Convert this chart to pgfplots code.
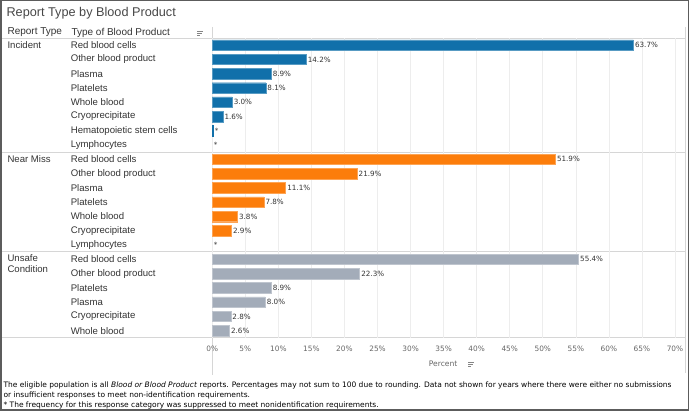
\documentclass[border=0pt]{standalone}
\usepackage{fontspec}
\setmainfont{Liberation Sans}
\newfontfamily\dvs{DejaVu Sans}
\usepackage{pgfplots}
\pgfplotsset{compat=1.18}
\usetikzlibrary{calc}

\definecolor{cbblue}{HTML}{1170AA}
\definecolor{cborange}{HTML}{FC7D0B}
\definecolor{cbgray}{HTML}{A3ACB9}
\definecolor{txt}{HTML}{333333}
\definecolor{sep}{HTML}{D6D6D6}
\definecolor{grd}{HTML}{EDEDED}

\newcommand{\sorticon}[1]{%
  \draw[txt!60, line width=0.6pt] ($#1+(0,-2)$) -- +(6,0)
    ($#1+(0,0)$) -- +(4.5,0) ($#1+(0,2)$) -- +(3,0);}

\begin{document}
\begin{tikzpicture}[x=1pt,y=-1pt]
% panes and separators
\draw[sep, line width=0.7pt] (0,38) -- (685,38);
\draw[sep, line width=0.7pt] (0,152) -- (685,152);
\draw[sep, line width=0.7pt] (0,251) -- (685,251);
\draw[sep, line width=0.7pt] (0,338) -- (685,338);
\draw[sep, line width=0.7pt] (212,27) -- (212,375);
\draw[sep, line width=0.7pt] (685,27) -- (685,373);

\begin{axis}[
  at={(212pt,-338pt)}, anchor=south west,
  scale only axis, width=463pt, height=300pt,
  xmin=0, xmax=70, ymin=-20.5, ymax=0.5,
  /pgf/number format/assume math mode=true,
  axis line style={draw=none},
  major tick length=0pt,
  xtick={0,5,...,70},
  xticklabel={\pgfmathprintnumber{\tick}\%},
  xticklabel style={font=\dvs\fontsize{7.4}{8}\selectfont, text=txt!75, yshift=-4.5pt},
  xmajorgrids, grid style={grd, line width=0.7pt},
  ytick={0,-1,...,-20},
  yticklabels={Red blood cells, Other blood product, Plasma, Platelets,
    Whole blood, Cryoprecipitate, Hematopoietic stem cells, Lymphocytes,
    Red blood cells, Other blood product, Plasma, Platelets, Whole blood,
    Cryoprecipitate, Lymphocytes,
    Red blood cells, Other blood product, Platelets, Plasma,
    Cryoprecipitate, Whole blood},
  yticklabel style={anchor=west, xshift=-145pt,
    font=\fontsize{9.6}{10}\selectfont, text=txt},
  xbar, bar shift=0pt, bar width=10.5pt,
  point meta=x,
  nodes near coords={\pgfmathprintnumber[fixed,fixed zerofill,precision=1]{\pgfplotspointmeta}\%},
  every node near coord/.append style={font=\dvs\fontsize{7.2}{8}\selectfont,
    text=txt, anchor=west, inner sep=1.5pt},
  clip=false,
]
% Incident
\addplot[fill=cbblue, draw=cbblue!70!white, line width=0.4pt] coordinates {
  (63.7,0) (14.2,-1) (8.9,-2) (8.1,-3) (3.0,-4) (1.6,-5)};
\addplot[fill=cbblue, draw=cbblue, line width=0.4pt,
  nodes near coords={*}] coordinates {(0.15,-6)};
\addplot[draw=none, fill=none, nodes near coords={*}] coordinates {(0,-7)};
% Near Miss
\addplot[fill=cborange, draw=cborange!70!white, line width=0.4pt] coordinates {
  (51.9,-8) (21.9,-9) (11.1,-10) (7.8,-11) (3.8,-12) (2.9,-13)};
\addplot[draw=none, fill=none, nodes near coords={*}] coordinates {(0,-14)};
% Unsafe Condition
\addplot[fill=cbgray, draw=cbgray!70!white, line width=0.4pt] coordinates {
  (55.4,-15) (22.3,-16) (8.9,-17) (8.0,-18) (2.8,-19) (2.6,-20)};
\end{axis}

% title and headers
\node[anchor=west, font=\fontsize{12.7}{14}\selectfont, text=txt!90, inner sep=0pt]
  at (6,13) {Report Type by Blood Product};
\node[anchor=west, font=\fontsize{10}{11}\selectfont, text=txt, inner sep=0pt]
  at (7,32.5) {Report Type};
\node[anchor=west, font=\fontsize{10}{11}\selectfont, text=txt, inner sep=0pt]
  at (71,32.5) {Type of Blood Product};
\sorticon{(197,33)}
% group labels
\node[anchor=west, font=\fontsize{9.6}{10}\selectfont, text=txt, inner sep=0pt]
  at (7,45) {Incident};
\node[anchor=west, font=\fontsize{9.6}{10}\selectfont, text=txt, inner sep=0pt]
  at (7,159) {Near Miss};
\node[anchor=north west, align=left, font=\fontsize{9.6}{11.5}\selectfont,
  text=txt, inner sep=0pt] at (7,254) {Unsafe\\Condition};
% x axis title
\node[font=\dvs\fontsize{7.6}{9}\selectfont, text=txt!75, inner sep=0pt]
  at (443,364) {Percent};
\sorticon{(468,364)}
% footnote
\node[anchor=north west, align=left, font=\dvs\fontsize{7.5}{10}\selectfont,
  text=black, inner sep=0pt] at (3,381.5)
  {The eligible population is all \textit{Blood or Blood Product} reports. Percentages may not sum to 100 due to rounding. Data not shown for years where there were either no submissions\\
   or insufficient responses to meet non-identification requirements.\\
   * The frequency for this response category was suppressed to meet nonidentification requirements.};
% outer frame
\draw[txt!80, line width=1.5pt] (0.75,0.75) rectangle (688.25,410.25);
\end{tikzpicture}
\end{document}
